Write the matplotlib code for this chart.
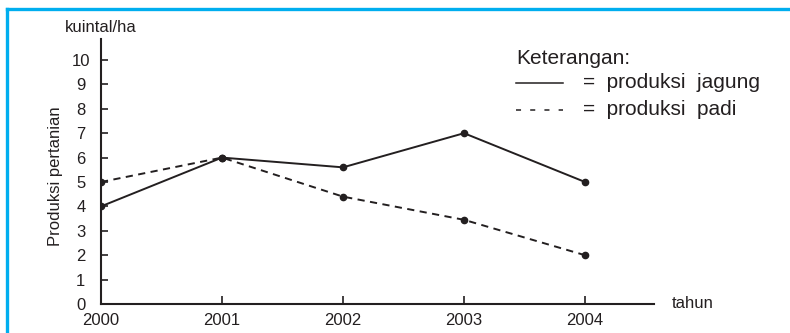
import matplotlib.pyplot as plt
from matplotlib.lines import Line2D

plt.rcParams['font.family'] = ['Liberation Sans', 'DejaVu Sans']

tahun = [2000, 2001, 2002, 2003, 2004]
jagung = [4, 6, 5.6, 7, 5]
padi = [5, 6, 4.4, 3.45, 2]
yticks = list(range(0, 11))
label_jagung = '=  produksi  jagung'
label_padi = '=  produksi  padi'

ink = '#231f20'
W, H = 790, 333

fig = plt.figure(figsize=(7.9, 3.33), dpi=100)
ax = fig.add_axes([101 / W, 1 - 304 / H, (654 - 101) / W, (304 - 39) / H])

ax.plot(tahun, jagung, color=ink, lw=1.4, marker='o', ms=4.5)
ax.plot(tahun, padi, color=ink, lw=1.4, ls=(0, (3.7, 2.8)), marker='o', ms=4.5)

ax.set_xlim(2000, 2004.57)
ax.set_ylim(0, 10.86)
ax.set_xticks(tahun)
ax.set_yticks(yticks)
ax.tick_params(direction='in', width=1.2, labelsize=12, colors=ink)
ax.tick_params(axis='y', length=5, pad=14.5)
ax.tick_params(axis='x', length=6, pad=6.5)
for lbl in ax.get_yticklabels():
    lbl.set_horizontalalignment('center')
for s in ['top', 'right']:
    ax.spines[s].set_visible(False)
for s in ['left', 'bottom']:
    ax.spines[s].set_linewidth(1.5)
    ax.spines[s].set_color(ink)

ax.set_ylabel('Produksi pertanian', fontsize=12, color=ink)
ax.yaxis.set_label_coords(-0.068, 0.483)
fig.text(101 / W, 1 - 28 / H, 'kuintal/ha', ha='center', va='center', fontsize=12, color=ink)
fig.text(672 / W, 1 - 304 / H, 'tahun', ha='left', va='center', fontsize=12, color=ink)

# keterangan
fig.text(516 / W, 1 - 58 / H, 'Keterangan:', ha='left', va='center', fontsize=15, color=ink)
fig.text(583 / W, 1 - 82 / H, label_jagung, ha='left', va='center', fontsize=15, color=ink)
fig.text(583 / W, 1 - 109 / H, label_padi, ha='left', va='center', fontsize=15, color=ink)
fig.add_artist(Line2D([516 / W, 563 / W], [1 - 83 / H] * 2, color=ink, lw=1.1))
fig.add_artist(Line2D([516 / W, 563 / W], [1 - 110 / H] * 2, color=ink, lw=1.1,
                      ls=(0, (3.3, 6))))

# bingkai biru
fig.add_artist(Line2D([7 / W, 7 / W], [0, 1 - 9 / H], color='#00AEEF', lw=2.4))
fig.add_artist(Line2D([7 / W, 1], [1 - 9 / H, 1 - 9 / H], color='#00AEEF', lw=2.4))

fig.savefig('out.png', dpi=100)
